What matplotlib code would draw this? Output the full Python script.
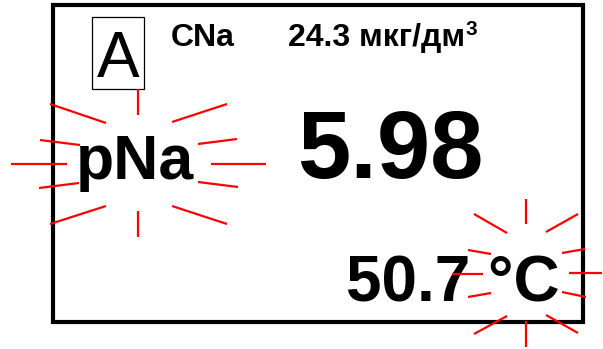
import matplotlib
matplotlib.use("Agg")
import matplotlib.pyplot as plt
from matplotlib.patches import Rectangle

W, H = 603, 349

# Display texts
mode_label = "A"
conc_label = "CNa"
conc_value = "24.3 мкг/дм"
conc_power = "3"
main_label = "pNa"
main_value = "5.98"
temp_value = "50.7 °C"

# Blink rays around "pNa" (pixel coords): x0, y0, x1, y1
pna_x0 = [138, 138, 11, 211, 50, 172, 50, 172, 40, 198, 39, 198]
pna_y0 = [89, 211, 164, 164, 104, 122, 224, 206, 140, 144, 188, 182]
pna_x1 = [138, 138, 67, 266, 106, 227, 106, 227, 80, 237, 79, 238]
pna_y1 = [115, 237, 164, 164, 123, 104, 206, 224, 145, 139, 183, 187]

# Blink rays around "°C"
tc_x0 = [526, 526, 452, 569, 474, 546, 474, 546, 468, 562, 468, 562]
tc_y0 = [199, 321, 274, 273, 214, 232, 334, 315, 250, 253, 297, 292]
tc_x1 = [526, 526, 483, 602, 507, 578, 507, 578, 491, 585, 491, 586]
tc_y1 = [224, 347, 274, 273, 233, 214, 316, 333, 254, 249, 293, 297]

fig = plt.figure(figsize=(W / 100, H / 100), dpi=100)
ax = fig.add_axes([0, 0, 1, 1])
ax.set_xlim(0, W)
ax.set_ylim(H, 0)
ax.axis("off")

FONT = "Liberation Sans"

# outer frame
ax.add_patch(Rectangle((52.5, 5), 530, 317, fill=False, ec="black", lw=3.0, zorder=1))
# mode box
ax.add_patch(Rectangle((91.5, 16.5), 52, 72.5, fill=False, ec="black", lw=0.9, zorder=2))

ax.text(118.5, 77, mode_label, ha="center", va="baseline", fontsize=46,
        family=FONT, color="black", zorder=3)
ax.text(170.5, 46, conc_label, ha="left", va="baseline", fontsize=23,
        family=FONT, weight="bold", zorder=3)
ax.text(288.5, 46, conc_value, ha="left", va="baseline", fontsize=23,
        family=FONT, weight="bold", zorder=3)
ax.text(466, 35, conc_power, ha="left", va="baseline", fontsize=15,
        family=FONT, weight="bold", zorder=3)
ax.text(76, 179, main_label, ha="left", va="baseline", fontsize=45,
        family=FONT, weight="bold", zorder=3)
ax.text(297, 178, main_value, ha="left", va="baseline", fontsize=69,
        family=FONT, weight="bold", zorder=3)
ax.text(346.5, 302, temp_value, ha="left", va="baseline", fontsize=46,
        family=FONT, weight="bold", zorder=3)

for xs0, ys0, xs1, ys1 in [(pna_x0, pna_y0, pna_x1, pna_y1),
                           (tc_x0, tc_y0, tc_x1, tc_y1)]:
    for a, b, c, d in zip(xs0, ys0, xs1, ys1):
        ax.plot([a, c], [b, d], color="#ff0000", lw=1.6,
                solid_capstyle="butt", zorder=4)

fig.savefig("out.png", dpi=100)
